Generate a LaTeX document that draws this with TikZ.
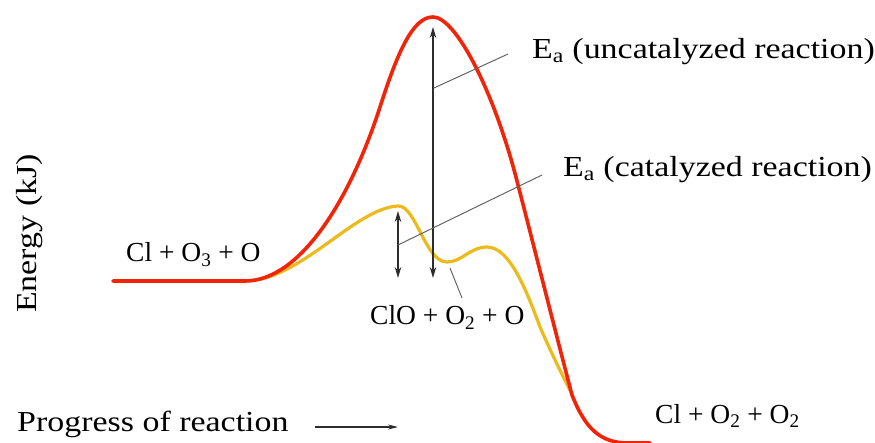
\documentclass[tikz,border=0pt]{standalone}
\usepackage{fontspec}
\setmainfont{Liberation Serif}
\newfontfamily\widefont[FakeStretch=1.17]{Liberation Serif}
\usetikzlibrary{arrows.meta}
\definecolor{curvered}{RGB}{242,36,8}
\definecolor{curveyellow}{RGB}{236,186,26}
\definecolor{arrowgray}{RGB}{45,45,45}
\definecolor{leadergray}{RGB}{100,100,100}
\begin{document}
\begin{tikzpicture}[x=1pt,y=-1pt,
  lbl/.style={inner sep=0pt, anchor=base west, font=\widefont\fontsize{29}{29}\selectfont},
  chem/.style={inner sep=0pt, anchor=base west, font=\fontsize{27.5}{27.5}\selectfont},
  redcurve/.style={draw=curvered, line width=3.6pt, line cap=round, line join=round},
  yellowcurve/.style={draw=curveyellow, line width=3.2pt, line cap=round, line join=round},
  dbl/.style={draw=arrowgray, line width=1.2pt, {Stealth[length=11pt,width=6.5pt]}-{Stealth[length=11pt,width=6.5pt]}},
  single/.style={draw=arrowgray, line width=1.2pt, -{Stealth[length=10pt,width=5pt]}},
  leader/.style={draw=leadergray, line width=1pt}]
\useasboundingbox (0,0) rectangle (875,443);

% curves
\path[yellowcurve] (245,281) .. controls (300,281) and (355,208) .. (398,206)
  .. controls (416,205) and (425,262) .. (447,262)
  .. controls (462,262) and (470,247) .. (487,247)
  .. controls (510,247) and (527,292) .. (540,327)
  .. controls (550,350) and (562,375) .. (572,394);
\path[redcurve] (113,281) -- (245,281)
  .. controls (300,281) and (350,200) .. (380,107)
  .. controls (398,51) and (413,17) .. (433,17)
  .. controls (456,17) and (495,93) .. (518,185)
  .. controls (530,231) and (558,342) .. (572,395)
  .. controls (585,428) and (600,443) .. (628,443) -- (650,443);

% coordinates
\coordinate (ua) at (433,27);
\coordinate (ub) at (433,278);
\coordinate (ca) at (398,211);
\coordinate (cb) at (398,278);
\coordinate (ul) at (434,88);
\coordinate (cl) at (398,245);
\coordinate (vl) at (450,268);
\coordinate (pa) at (315,427);
\coordinate (pb) at (398,427);

% labels
\node[lbl] (eaU) at (532,59) {E\textsubscript{a} (uncatalyzed reaction)};
\node[lbl] (eaC) at (563,177) {E\textsubscript{a} (catalyzed reaction)};
\node[chem] (react) at (126,262) {Cl + O\textsubscript{3} + O};
\node[chem] (inter) at (370,325) {ClO + O\textsubscript{2} + O};
\node[chem] (prod) at (655,423) {Cl + O\textsubscript{2} + O\textsubscript{2}};
\node[lbl] (prog) at (17,431) {Progress of reaction};
\node[lbl, rotate=90] (energy) at (36,313) {Energy (kJ)};

% arrows and leaders
\draw[dbl] (ua) -- (ub);
\draw[dbl] (ca) -- (cb);
\draw[leader] (ul) -- (508,54) coordinate (ue);
\draw[leader] (cl) -- (542,175) coordinate (ce);
\draw[leader] (vl) -- (462,298) coordinate (ve);
\draw[single] (pa) -- (pb);
\end{tikzpicture}
\end{document}
